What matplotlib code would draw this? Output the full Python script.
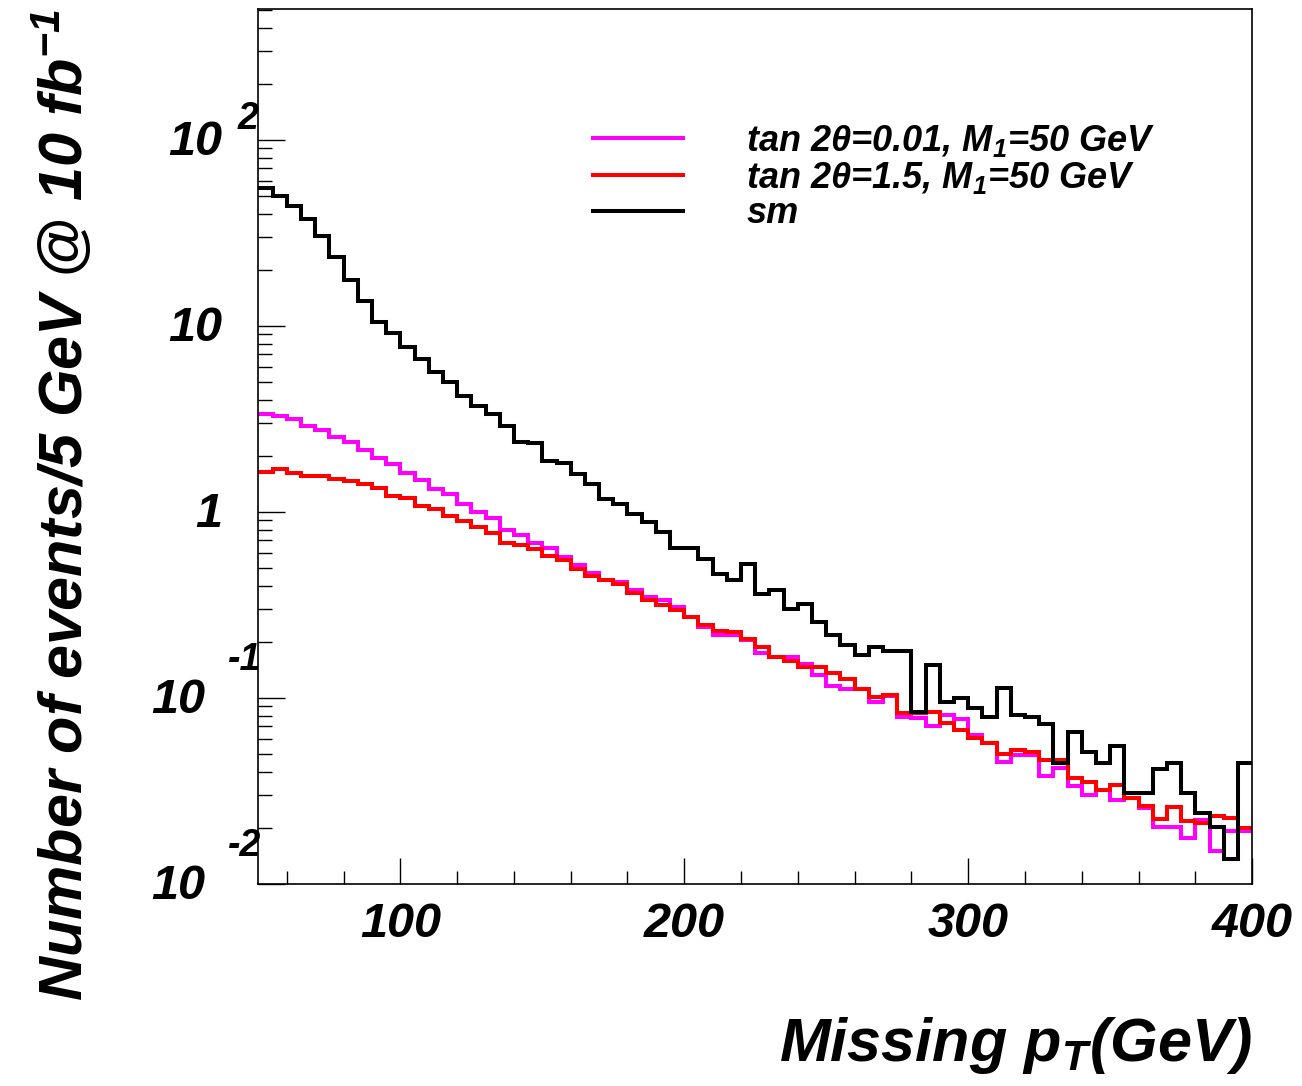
import matplotlib
matplotlib.use('Agg')  # sem display
import matplotlib.pyplot as plt
import matplotlib.transforms as mtransforms
from matplotlib.ticker import MultipleLocator, LogLocator, NullFormatter
import numpy as np

plt.rcParams['font.family'] = ['Liberation Sans', 'DejaVu Sans']
plt.rcParams['font.weight'] = 'bold'
plt.rcParams['font.style'] = 'italic'
plt.rcParams['mathtext.fontset'] = 'custom'
plt.rcParams['mathtext.rm'] = 'Liberation Sans:italic:bold'
plt.rcParams['mathtext.it'] = 'Liberation Sans:italic:bold'
plt.rcParams['mathtext.bf'] = 'Liberation Sans:italic:bold'

# Bins de 5 GeV entre 50 e 400 GeV
bin_edges = np.arange(50, 405, 5)

# tan 2theta = 0.01, M1 = 50 GeV
tan001 = [3.35, 3.28, 3.14, 2.90, 2.75, 2.53, 2.37, 2.15, 1.94, 1.80,
          1.62, 1.48, 1.32, 1.24, 1.10, 0.99, 0.93, 0.80, 0.75, 0.68,
          0.636, 0.57, 0.517, 0.47, 0.43, 0.42, 0.38, 0.346, 0.333, 0.306,
          0.272, 0.241, 0.217, 0.217, 0.204, 0.173, 0.166, 0.165, 0.152, 0.133,
          0.116, 0.112, 0.112, 0.095, 0.102, 0.079, 0.0775, 0.0705, 0.081, 0.0766,
          0.063, 0.057, 0.0453, 0.049, 0.049, 0.038, 0.042, 0.0335, 0.030, 0.032,
          0.0282, 0.0288, 0.0254, 0.0202, 0.0202, 0.0177, 0.022, 0.015, 0.0193, 0.0193]

# tan 2theta = 1.5, M1 = 50 GeV
tan15 = [1.64, 1.69, 1.61, 1.56, 1.56, 1.50, 1.46, 1.40, 1.34, 1.21,
         1.18, 1.07, 1.03, 0.95, 0.89, 0.83, 0.77, 0.68, 0.66, 0.63,
         0.58, 0.55, 0.49, 0.45, 0.43, 0.41, 0.367, 0.335, 0.315, 0.296,
         0.272, 0.246, 0.229, 0.226, 0.206, 0.188, 0.166, 0.158, 0.147, 0.146,
         0.135, 0.126, 0.112, 0.101, 0.103, 0.083, 0.083, 0.084, 0.073, 0.067,
         0.061, 0.057, 0.050, 0.052, 0.051, 0.046, 0.0465, 0.0369, 0.0353, 0.032,
         0.034, 0.0288, 0.026, 0.0222, 0.0258, 0.0216, 0.0213, 0.0231, 0.0225, 0.0199]

# fundo do modelo padrao
sm = [54.8, 50.0, 44.2, 37.3, 30.3, 23.5, 17.6, 13.5, 10.5, 9.1,
      7.7, 6.6, 5.66, 5.0, 4.19, 3.71, 3.35, 2.90, 2.38, 2.35,
      1.87, 1.82, 1.60, 1.40, 1.17, 1.10, 0.97, 0.88, 0.78, 0.64,
      0.636, 0.56, 0.46, 0.43, 0.52, 0.36, 0.38, 0.30, 0.32, 0.256,
      0.216, 0.192, 0.170, 0.188, 0.179, 0.179, 0.084, 0.150, 0.095, 0.099,
      0.088, 0.079, 0.113, 0.081, 0.079, 0.072, 0.0444, 0.065, 0.051, 0.0444,
      0.055, 0.0306, 0.0306, 0.0412, 0.0448, 0.0309, 0.0239, 0.0202, 0.0135, 0.0448]

series = [
    (tan001, '#ff00ff', r'tan 2θ=0.01, M$_1$=50 GeV'),
    (tan15, '#ff0000', r'tan 2θ=1.5, M$_1$=50 GeV'),
    (sm, 'black', 'sm'),
]

xticks = [100, 200, 300, 400]
ytick_vals = [1e-2, 1e-1, 1, 10, 100]
ytick_base = ['10', '10', '1', '10', '10']
ytick_exp = ['-2', '-1', '', '', '2']

fig = plt.figure(figsize=(13.02, 10.86), dpi=100)
ax = fig.add_axes([0.1984, 0.1863, 0.7634, 0.8054])

for vals, color, label in series:
    ax.stairs(vals, bin_edges, color=color, linewidth=2.9, label=label, baseline=None)

ax.set_xlim(50, 400)
ax.set_yscale('log')
ax.set_ylim(0.01, 504)

# eixos estilo ROOT
for sp in ax.spines.values():
    sp.set_linewidth(1.2)
ax.xaxis.set_major_locator(plt.FixedLocator(xticks))
ax.xaxis.set_minor_locator(MultipleLocator(20))
ax.yaxis.set_major_locator(plt.FixedLocator(ytick_vals))
ax.yaxis.set_minor_locator(LogLocator(base=10, subs=np.arange(2, 10)))
ax.yaxis.set_major_formatter(NullFormatter())
ax.yaxis.set_minor_formatter(NullFormatter())
ax.tick_params(axis='both', which='both', direction='in', top=False, right=False, width=1.0)
ax.tick_params(axis='x', which='major', length=19, labelsize=35, pad=13)
ax.tick_params(axis='x', which='minor', length=9.5)
ax.tick_params(axis='y', which='major', length=19.5)
ax.tick_params(axis='y', which='minor', length=10)
for lab in ax.get_xticklabels():
    lab.set_fontweight('bold')
    lab.set_fontstyle('italic')

# rotulos do eixo y como 10^n
for v, base, ex in zip(ytick_vals, ytick_base, ytick_exp):
    right = -53 if ex.startswith('-') else -36
    tb = mtransforms.offset_copy(ax.get_yaxis_transform(), fig=fig, x=right, y=-3, units='dots')
    ax.text(0, v, base, transform=tb, ha='right', va='center', fontsize=35,
            fontweight='bold', fontstyle='italic')
    if ex:
        up = 38 if ex.startswith('-') else 21
        left = -30 if ex.startswith('-') else -21
        te = mtransforms.offset_copy(ax.get_yaxis_transform(), fig=fig, x=left, y=up, units='dots')
        ax.text(0, v, ex, transform=te, ha='left', va='center', fontsize=27,
                fontweight='bold', fontstyle='italic')

fig.text(1252 / 1302, 1 - 1046 / 1086, r'Missing p$_T$(GeV)', ha='right', va='center',
         fontsize=44, fontweight='bold', fontstyle='italic')
fig.text(64 / 1302, 1 - 505 / 1086, r'Number of events/5 GeV @ 10 fb$^{-1}$', rotation=90,
         ha='center', va='center', fontsize=44, fontweight='bold', fontstyle='italic')

leg = ax.legend(loc='upper left', bbox_to_anchor=(593 / 1302, 1 - 123 / 1086),
                bbox_transform=fig.transFigure, frameon=False, fontsize=26,
                handlelength=2.5, handletextpad=1.75, labelspacing=0.02, borderpad=0,
                borderaxespad=0)
for line in leg.get_lines():
    line.set_linewidth(2.9)

fig.savefig('out.png', dpi=100)
